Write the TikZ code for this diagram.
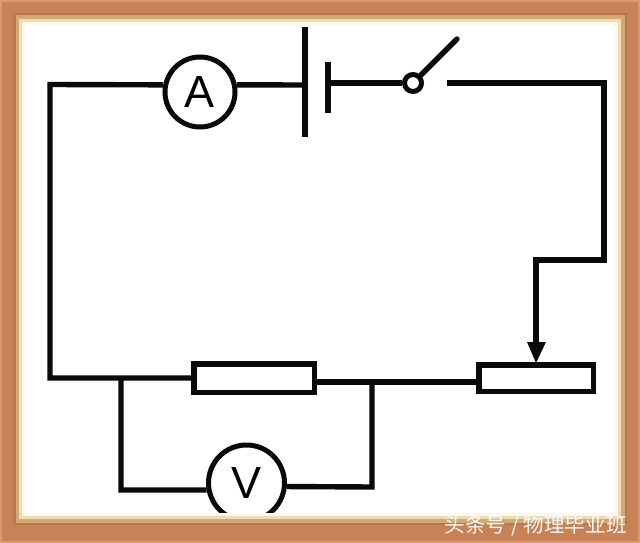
\documentclass[tikz,border=0pt]{standalone}
\usepackage{fontspec}
\setmainfont{Liberation Sans}
\newfontfamily\cjk{Noto Sans CJK SC}
\definecolor{frameE}{HTML}{D79A74}
\definecolor{frameA}{HTML}{C98256}
\definecolor{frameD}{HTML}{B8794A}
\definecolor{frameB}{HTML}{D2A874}
\definecolor{frameC}{HTML}{EFDBB2}
\definecolor{frameF}{HTML}{FDF8EA}
\definecolor{wirec}{HTML}{0A0A0A}
\tikzset{x=1pt,y=-1pt,
 wire/.style={draw=wirec,line width=5.4pt,line cap=butt,line join=miter},
 meter/.style={circle,draw=wirec,fill=white,line width=5pt,inner sep=0pt,font=\fontsize{45}{45}\selectfont},
 resist/.style={rectangle,draw=wirec,fill=white,line width=5.5pt,inner sep=0pt},
 contact/.style={circle,draw=wirec,fill=white,line width=5pt,minimum size=17pt,inner sep=0pt},
 watermark/.style={text=white!94!frameA,font=\cjk\fontsize{20.6}{20.6}\selectfont,inner sep=0pt}}
\begin{document}
\begin{tikzpicture}
\useasboundingbox (0,0) rectangle (640,543);
\fill[frameE] (0,0) rectangle (640,543);
\fill[frameA] (2,2) rectangle (638,541);
\fill[frameD] (13,13) rectangle (627,525);
\fill[frameB] (16,15) rectangle (625,523);
\fill[frameC] (19,19) rectangle (621,519);
\fill[frameF] (22,22) rectangle (618,516);
\fill[white] (25,25) rectangle (615,513);
\node[meter,minimum size=70pt] (A) at (200,92) {A};
\node[meter,minimum size=76pt] (V) at (246.5,483) {\raisebox{-3pt}{V}};
\node[contact] (K) at (413,83) {};
\node[resist,minimum width=120.5pt,minimum height=28.5pt] (R1) at (254,378) {};
\node[resist,minimum width=114.5pt,minimum height=26.5pt] (R2) at (536,378) {};
\coordinate (batL) at (305,85);
\coordinate (batLt) at (305,27);
\coordinate (batLb) at (305,137);
\coordinate (batS) at (328,83);
\coordinate (batSt) at (328,62);
\coordinate (batSb) at (328,113);
\coordinate (swEnd) at (457,39);
\coordinate (swR) at (447,83);
\coordinate (tr) at (604,83);
\coordinate (tap) at (604,260);
\coordinate (tap2) at (536,260);
\coordinate (tl) at (50,84.5);
\coordinate (bl) at (50,378);
\coordinate (j1) at (121,378);
\coordinate (j2) at (372,382);
\coordinate (b1) at (121,490);
\coordinate (b2) at (372,487);
\coordinate (tipbase) at (536,342);
\draw[wire] (A.169) -- (tl) -- (bl) -- (R1.west);
\draw[wire] (A.11) -- (batL);
\draw[wire,line width=6pt] (batLt) -- (batLb);
\draw[wire,line width=5.6pt] (batSt) -- (batSb);
\draw[wire] (batS) -- (K.west);
\draw[wire,line cap=round] (K.45) -- (swEnd);
\draw[wire] (swR) -- (tr) -- (tap) -- (tap2) -- (tipbase);
\fill[wirec] (536,363) -- (527,342) -- (546,342) -- cycle;
\draw[wire] (j2 -| R1.east) -- (j2 -| R2.west);
\draw[wire] (j1) -- (b1) -- (V.190);
\draw[wire] (j2) -- (b2) -- (V.-5);
% the frame hides the lower part of the voltmeter circle
\fill[white] (218,513) rectangle (275,515);
\fill[frameF] (200,513.5) rectangle (295,516);
\fill[frameC] (200,516) rectangle (295,519);
\fill[frameB] (200,519) rectangle (295,523);
\fill[frameD] (200,523) rectangle (295,525);
\fill[frameA] (200,525) rectangle (295,540);
\node[watermark,anchor=east] (wm) at (627,526) {头条号 / 物理毕业班};
\end{tikzpicture}
\end{document}
